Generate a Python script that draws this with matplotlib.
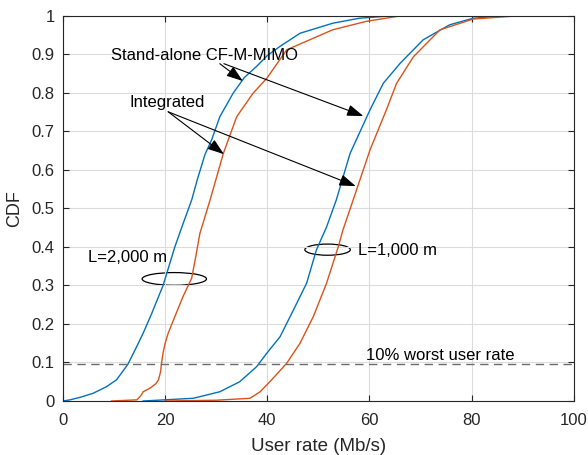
import matplotlib
matplotlib.use("Agg")
import matplotlib.pyplot as plt
from matplotlib.patches import Ellipse

plt.rcParams["font.family"] = ["Liberation Sans", "DejaVu Sans"]

# CDF curves (x = user rate, y = CDF)
sa_2000_x = [0, 1.4, 3.5, 5.9, 8.5, 10.5, 12.7, 14.1, 15.7, 17.4, 19.6, 21.9, 23.5, 25.2,
             26.3, 27.8, 29.1, 30.7, 33.3, 35.5, 37.9, 40, 42.5, 46.4, 52.8, 58, 64]
sa_2000_y = [0, 0.003, 0.01, 0.02, 0.037, 0.055, 0.095, 0.132, 0.176, 0.228, 0.3, 0.4, 0.46, 0.522,
             0.575, 0.64, 0.678, 0.738, 0.799, 0.84, 0.869, 0.897, 0.921, 0.955, 0.981, 0.994, 1.0]

int_2000_x = [9.5, 14.5, 15.3, 15.7, 17.0, 18.2, 18.7, 19.1, 19.3, 19.6, 20.0, 20.6, 21.9, 23.5,
              25.2, 26.0, 26.8, 28.8, 31.4, 34.0, 37.2, 39.9, 43.8, 48.3, 52.8, 59.4, 66]
int_2000_y = [0, 0.003, 0.015, 0.024, 0.033, 0.045, 0.055, 0.075, 0.098, 0.125, 0.15, 0.176, 0.219,
              0.271, 0.319, 0.375, 0.435, 0.522, 0.643, 0.738, 0.799, 0.838, 0.912, 0.938, 0.964,
              0.986, 1.0]

sa_1000_x = [15.7, 25.5, 30.7, 34.6, 37.9, 39.9, 42.5, 45.1, 47.7, 49.6, 51.6, 53.5, 56.2,
             60.1, 62.7, 66, 70.5, 75.7, 80.3, 86]
sa_1000_y = [0, 0.007, 0.024, 0.05, 0.089, 0.124, 0.167, 0.236, 0.306, 0.392, 0.452, 0.522, 0.643,
             0.756, 0.825, 0.877, 0.938, 0.977, 0.994, 1.0]

int_1000_x = [20, 30, 36.6, 38.6, 40.5, 43.8, 46.4, 49.0, 51.6, 53.9, 54.8, 56.8, 60.1,
              63.3, 65.3, 68.6, 73.8, 80.3, 88.8]
int_1000_y = [0, 0.002, 0.007, 0.024, 0.05, 0.098, 0.15, 0.219, 0.306, 0.401, 0.444, 0.522, 0.652,
              0.756, 0.825, 0.894, 0.964, 0.992, 1.0]

worst_level = 0.096

BLUE = "#0072BD"
ORANGE = "#D95319"

fig = plt.figure(figsize=(5.88, 4.55), dpi=100)
ax = fig.add_axes([0.107, 0.1187, 0.869, 0.8463])

ax.plot(sa_2000_x, sa_2000_y, color=BLUE, lw=1)
ax.plot(int_2000_x, int_2000_y, color=ORANGE, lw=1)
ax.plot(sa_1000_x, sa_1000_y, color=BLUE, lw=1)
ax.plot(int_1000_x, int_1000_y, color=ORANGE, lw=1)

ax.axhline(worst_level, color="#6b6b6b", lw=1, ls=(0, (6, 4)))

ax.set_xlim(0, 100)
ax.set_ylim(0, 1)
ax.set_xticks(range(0, 101, 20))
ax.set_yticks([i / 10 for i in range(11)])
ax.set_yticklabels(["0", "0.1", "0.2", "0.3", "0.4", "0.5", "0.6", "0.7", "0.8", "0.9", "1"])
ax.tick_params(direction="in", top=True, right=True, labelsize=12, colors="#262626", length=4)
ax.tick_params(axis="x", pad=9)
ax.tick_params(axis="y", pad=6)
ax.grid(True, color="#dcdcdc", lw=0.8)
for s in ax.spines.values():
    s.set_color("#262626")
    s.set_linewidth(0.8)

ax.set_xlabel("User rate (Mb/s)", fontsize=13.5, color="#262626", labelpad=7)
ax.set_ylabel("CDF", fontsize=13, color="#262626", labelpad=6)

#ANNOTATIONS
arrow = dict(arrowstyle="-|>,head_length=1.0,head_width=0.35", color="k", lw=0.8, shrinkA=0, shrinkB=0)
ax.text(27.8, 0.896, "Stand-alone CF-M-MIMO", fontsize=12, ha="center", va="center")
ax.annotate("", xy=(35.2, 0.831), xytext=(30.7, 0.876), arrowprops=arrow)
ax.annotate("", xy=(58.8, 0.740), xytext=(31.5, 0.876), arrowprops=arrow)

ax.text(20.4, 0.774, "Integrated", fontsize=12, ha="center", va="center")
ax.annotate("", xy=(31.5, 0.641), xytext=(20.6, 0.751), arrowprops=arrow)
ax.annotate("", xy=(57.3, 0.558), xytext=(20.6, 0.751), arrowprops=arrow)

ax.add_patch(Ellipse((21.8, 0.317), 12.6, 0.033, fill=False, ec="k", lw=0.9))
ax.add_patch(Ellipse((51.8, 0.393), 8.9, 0.029, fill=False, ec="k", lw=0.9))
ax.text(4.9, 0.373, "L=2,000 m", fontsize=12, ha="left", va="center")
ax.text(57.8, 0.392, "L=1,000 m", fontsize=12, ha="left", va="center")
ax.text(59.4, 0.119, "10% worst user rate", fontsize=12, ha="left", va="center")

fig.savefig("out.png", dpi=100)
